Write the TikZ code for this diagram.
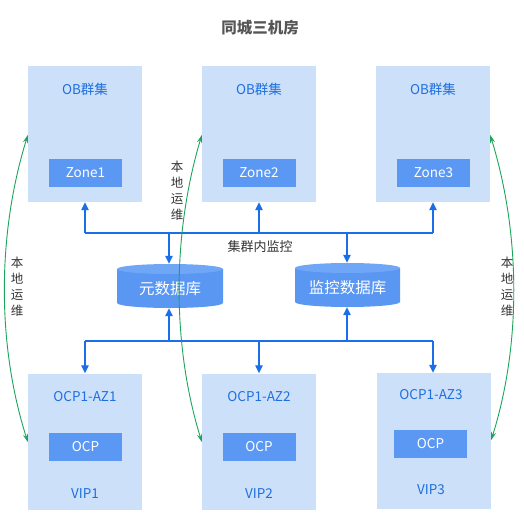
\documentclass[tikz,border=0pt]{standalone}
\usepackage{fontspec}
\setmainfont{Noto Sans CJK SC}
\usetikzlibrary{arrows.meta}
\definecolor{boxbg}{HTML}{CCE0FA}
\definecolor{inner}{HTML}{5B98F4}
\definecolor{txtblue}{HTML}{1F6FE0}
\definecolor{linkblue}{HTML}{1A6FE8}
\definecolor{cylbody}{HTML}{5A97F2}
\definecolor{cyltop}{HTML}{6FA6F6}
\definecolor{opgreen}{HTML}{1BA55A}
\definecolor{labgray}{HTML}{333333}
\definecolor{titlegray}{HTML}{555555}
\begin{document}
\begin{tikzpicture}[x=1pt,y=-1pt,
  outerbox/.style={fill=boxbg, draw=none, minimum width=114pt, minimum height=136pt, inner sep=0pt},
  innerbox/.style={fill=inner, draw=none, minimum width=73pt, minimum height=28pt, inner sep=0pt, text=white, font=\fontsize{13.5}{15}\selectfont},
  bluetxt/.style={text=txtblue, font=\fontsize{13.5}{15}\selectfont, inner sep=0pt},
  link/.style={draw=linkblue, line width=1.2pt},
  linkarr/.style={link, -{Triangle[length=8pt,width=7.5pt]}},
  opsarr/.style={draw=opgreen, line width=0.9pt, {Stealth[length=8pt,width=5pt]}-{Stealth[length=8pt,width=5pt]}},
  vlabel/.style={text=labgray, font=\fontsize{12.5}{16}\selectfont, align=center, inner sep=0pt},
  cyltext/.style={text=white, font=\fontsize{15.5}{17}\selectfont, inner sep=0pt}
]
\useasboundingbox (0,0) rectangle (523,524);

% title
\node[text=titlegray, font=\fontsize{15.5}{17}\selectfont\bfseries] (title) at (260,28) {同城三机房};

% OB boxes
\node[outerbox] (ob1) at (85,134) {};
\node[outerbox] (ob2) at (259,134) {};
\node[outerbox] (ob3) at (433,134) {};
\node[bluetxt] (obt1) at (85,89) {OB群集};
\node[bluetxt] (obt2) at (259,89) {OB群集};
\node[bluetxt] (obt3) at (433,89) {OB群集};
\node[innerbox] (z1) at (85.5,173) {Zone1};
\node[innerbox] (z2) at (259,173) {Zone2};
\node[innerbox] (z3) at (433.5,173) {Zone3};

% OCP boxes
\node[outerbox] (ocp1) at (85,441.5) {};
\node[outerbox] (ocp2) at (259,441.5) {};
\node[outerbox] (ocp3) at (434,441) {};
\node[bluetxt] (az1) at (85,397) {OCP1-AZ1};
\node[bluetxt] (az2) at (259,397) {OCP1-AZ2};
\node[bluetxt] (az3) at (431,395) {OCP1-AZ3};
\node[innerbox] (c1) at (85.5,447) {OCP};
\node[innerbox] (c2) at (259,447) {OCP};
\node[innerbox] (c3) at (430.5,444) {OCP};
\node[bluetxt] (v1) at (85,494) {VIP1};
\node[bluetxt] (v2) at (259,494) {VIP2};
\node[bluetxt] (v3) at (431,490) {VIP3};

% cylinders
\fill[cylbody] (117,269) -- (117,303) arc[start angle=180,end angle=360,x radius=53pt,y radius=5pt] -- (223,269) -- cycle;
\fill[cyltop] (170,269) ellipse[x radius=53pt,y radius=5pt];
\fill[cylbody] (295,268) -- (295,302) arc[start angle=180,end angle=360,x radius=52.5pt,y radius=5pt] -- (400,268) -- cycle;
\fill[cyltop] (347.5,268) ellipse[x radius=52.5pt,y radius=5pt];
\node[minimum width=106pt, minimum height=44pt, inner sep=0pt] (meta) at (170,286) {};
\node[minimum width=105pt, minimum height=44pt, inner sep=0pt] (mon) at (347.5,285) {};
\node[cyltext] at (170,289) {元数据库};
\node[cyltext] at (347.5,288) {监控数据库};

% buses
\coordinate (tb1) at (85,233);
\coordinate (tb2) at (259,233);
\coordinate (tb3) at (433,233);
\coordinate (tbm) at (169,233);
\coordinate (tbn) at (347,233);
\coordinate (bb1) at (85,341);
\coordinate (bb2) at (259,341);
\coordinate (bb3) at (433,341);
\coordinate (bbm) at (169,341);
\coordinate (bbn) at (347,341);

\draw[link] (tb1) -- (tb3);
\draw[linkarr] (tb1) -- (tb1 |- ob1.south);
\draw[linkarr] (tb2) -- (tb2 |- ob2.south);
\draw[linkarr] (tb3) -- (tb3 |- ob3.south);
\draw[linkarr] (tbm) -- (tbm |- meta.north);
\draw[linkarr] (tbn) -- (tbn |- mon.north);

\draw[link] (bb1) -- (bb3);
\draw[linkarr] (bbm) -- (bbm |- meta.south);
\draw[linkarr] (bbn) -- (bbn |- mon.south);
\draw[linkarr] (bb1) -- (bb1 |- ocp1.north);
\draw[linkarr] (bb2) -- (bb2 |- ocp2.north);
\draw[linkarr] (bb3) -- (bb3 |- ocp3.north);

\node[text=labgray, font=\fontsize{13}{15}\selectfont, inner sep=0pt] (mlab) at (260,247) {集群内监控};

% local ops
\coordinate (g1a) at (ob1.west |- 0,135);
\coordinate (g1b) at (ocp1.west |- 0,442);
\coordinate (g2a) at (ob2.west |- 0,135);
\coordinate (g2b) at (ocp2.west |- 0,442);
\coordinate (g3a) at (ob3.east |- 0,135);
\coordinate (g3b) at (ocp3.east |- 0,440);
\draw[opsarr] (g1b) .. controls (-3,345) and (-3,235) .. (g1a);
\draw[opsarr] (g2b) .. controls (172,345) and (172,235) .. (g2a);
\draw[opsarr] (g3b) .. controls (521,345) and (521,235) .. (g3a);

\node[vlabel] (l1) at (17,287) {本\\地\\运\\维};
\node[vlabel] (l2) at (177,191) {本\\地\\运\\维};
\node[vlabel] (l3) at (507,287) {本\\地\\运\\维};
\end{tikzpicture}
\end{document}
